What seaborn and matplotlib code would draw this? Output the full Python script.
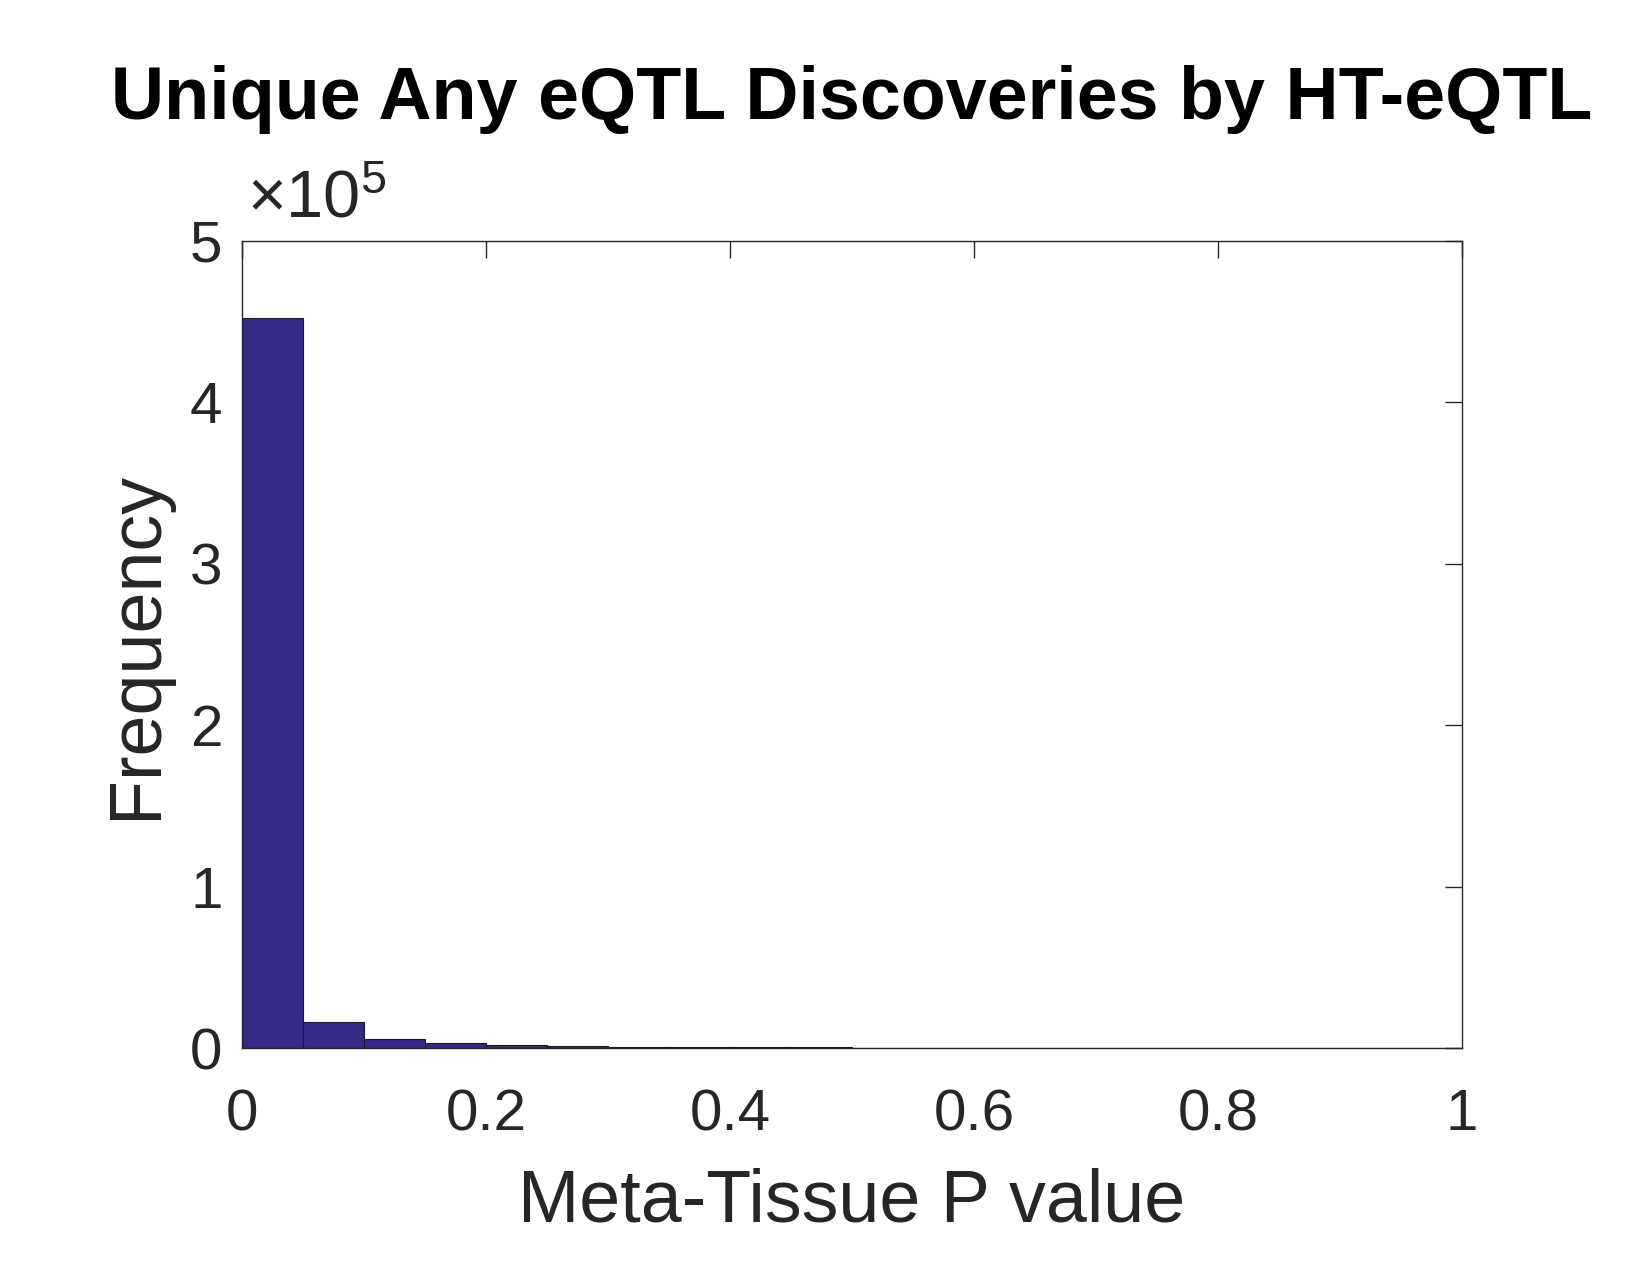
import matplotlib
matplotlib.use("Agg")
import matplotlib.pyplot as plt
from matplotlib.ticker import FuncFormatter
import numpy as np
import pandas as pd
import seaborn as sns

# histogram bins (MATLAB-style, 20 bins over [0, 1]) and counts
BIN_WIDTH = 0.05
BIN_RANGE = (0.0, 1.0)
BIN_COUNTS = [452000, 16200, 5600, 2900, 1700, 1100, 800, 600, 450, 350,
              300, 250, 200, 170, 150, 130, 110, 100, 90, 80]
Y_SCALE = 1e5

TITLE = "Unique Any eQTL Discoveries by HT-eQTL"
X_LABEL = "Meta-Tissue P value"
Y_LABEL = "Frequency"
BAR_COLOR = "#352a87"
TEXT_COLOR = "#262626"

sns.set_theme(style="white")
plt.rcParams["font.family"] = ["Liberation Sans", "DejaVu Sans"]
plt.rcParams["mathtext.fontset"] = "custom"
plt.rcParams["mathtext.rm"] = "Liberation Sans"
plt.rcParams["mathtext.it"] = "Liberation Sans"

centers = BIN_RANGE[0] + BIN_WIDTH * (np.arange(len(BIN_COUNTS)) + 0.5)
frame = pd.DataFrame({"p": centers, "count": BIN_COUNTS})

fig = plt.figure(figsize=(16.5, 12.75), dpi=100)
ax = fig.add_axes([0.1467, 0.178, 0.7394, 0.633])

sns.histplot(
    data=frame, x="p", weights="count", binwidth=BIN_WIDTH, binrange=BIN_RANGE,
    color=BAR_COLOR, alpha=1.0, edgecolor="#1a1a1a", linewidth=0.8, ax=ax,
)

ax.set_xlim(0, 1)
ax.set_ylim(0, 5 * Y_SCALE)
ax.set_xticks(np.arange(0, 1.01, 0.2))
ax.set_xticklabels(["0", "0.2", "0.4", "0.6", "0.8", "1"])
ax.set_yticks(np.arange(0, 5.01) * Y_SCALE)
ax.yaxis.set_major_formatter(FuncFormatter(lambda v, _: f"{v / Y_SCALE:g}"))
ax.text(0.004, 1.012, r"$\times\mathregular{10^5}$", transform=ax.transAxes,
        fontsize=48, color=TEXT_COLOR, ha="left", va="bottom")

ax.tick_params(direction="in", length=12, width=1, colors=TEXT_COLOR,
               labelsize=42, top=True, right=True)
ax.tick_params(axis="x", pad=29)
ax.tick_params(axis="y", pad=14)
for spine in ax.spines.values():
    spine.set_color(TEXT_COLOR)
    spine.set_linewidth(1)

ax.set_xlabel(X_LABEL, fontsize=53, color=TEXT_COLOR, labelpad=18)
ax.set_ylabel(Y_LABEL, fontsize=53, color=TEXT_COLOR, labelpad=14)
ax.set_title(TITLE, fontsize=53, fontweight="bold", color="black", pad=88)

fig.savefig("out.png", dpi=100)
